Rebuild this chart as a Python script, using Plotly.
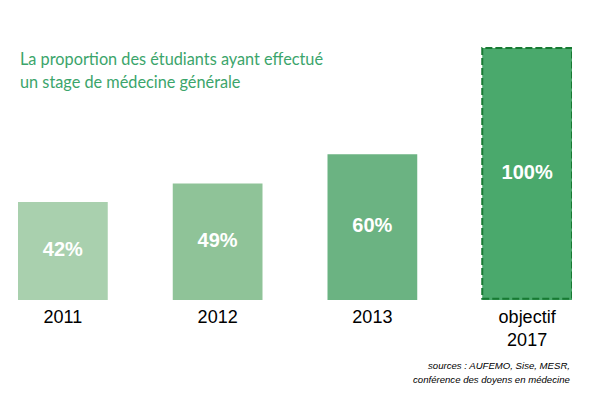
import plotly.graph_objects as go

categories = ["2011", "2012", "2013", "objectif<br>2017"]
values = [42, 49, 60, 100]
labels = ["42%", "49%", "60%", "100%"]
colors = ["#a9d0ae", "#8fc398", "#6bb382", "#4aa96c"]
title_lines = ["La proportion des étudiants ayant effectué", "un stage de médecine générale"]
source_lines = ["sources : AUFEMO, Sise, MESR,", "conférence des doyens en médecine"]

y_min = 5.1
y_max = y_min + 270 / 2.655
target_index = 3
bar_width = 0.58

fig = go.Figure()
fig.add_trace(go.Bar(
    x=categories, y=values,
    marker=dict(color=colors, line=dict(width=0)),
    width=bar_width, hoverinfo="skip",
))
# value labels, centred in the visible part of each bar
fig.add_trace(go.Scatter(
    x=categories, y=[(v + y_min) / 2 for v in values], text=labels,
    mode="text", textposition="middle center", hoverinfo="skip",
    textfont=dict(family="Liberation Sans, Arial", size=20, color="white", weight="bold"),
))

# dashed outline around the target bar
fig.add_shape(type="rect", xref="x", yref="y",
              x0=target_index - bar_width / 2, x1=target_index + bar_width / 2,
              y0=y_min + 0.5, y1=values[target_index],
              line=dict(color="#177a32", width=2, dash="7px,3px"), layer="above")

for k, line in enumerate(title_lines):
    fig.add_annotation(text=line, xref="paper", yref="paper", x=0, y=1,
                       xanchor="left", yanchor="top", align="left", showarrow=False,
                       font=dict(family="Lato, Noto Sans", size=16.3, color="#3ba56b"),
                       yshift=-17 - 23 * k)
for k, line in enumerate(source_lines):
    fig.add_annotation(text="<i>" + line + "</i>", xref="paper", yref="paper", x=1, y=0,
                       xanchor="right", yanchor="middle", align="right", showarrow=False,
                       font=dict(family="Liberation Sans, Arial", size=9.6, color="black"),
                       yshift=-65 - 14.5 * k)

fig.update_layout(
    width=590, height=395,
    margin=dict(l=18, r=18, t=30, b=95),
    paper_bgcolor="white", plot_bgcolor="white",
    showlegend=False,
    xaxis=dict(type="category", range=[-0.29, 3.29], showgrid=False, showline=False,
               ticks="", automargin=False, ticklabelstandoff=4,
               tickfont=dict(family="Liberation Sans, Arial", size=18, color="black")),
    yaxis=dict(range=[y_min, y_max], visible=False, showgrid=False, zeroline=False),
)
fig.write_html("out.html", config={"displayModeBar": False},
               post_script="document.body.style.margin='0';")
